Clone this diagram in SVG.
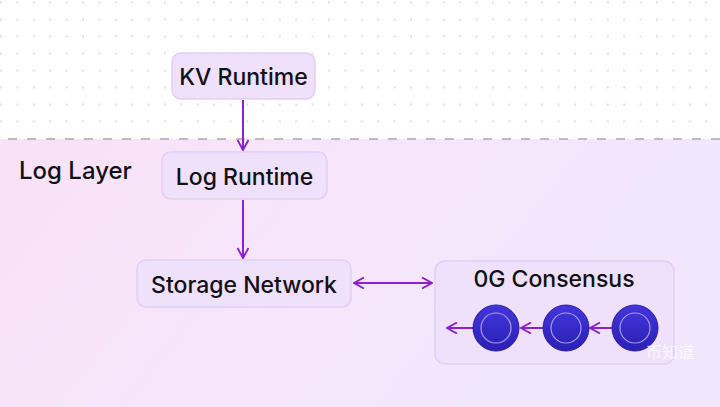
<svg xmlns="http://www.w3.org/2000/svg" width="720" height="407" viewBox="0 0 720 407">
<defs>
<style>
.node rect{fill:#efe0fb;stroke:#e2cdf6;stroke-width:1.5}
.lbl{font-family:Inter,"Noto Sans",sans-serif;font-size:23px;font-weight:500;fill:#111015;text-anchor:middle;dominant-baseline:central}
.conn{stroke:#8a22c9;stroke-width:2;fill:none}
.ball{fill:url(#ballg);stroke:#2a1c9e;stroke-width:1}
.ring{fill:none;stroke:#a69cf0;stroke-width:1.2}
</style>
<pattern id="dots" width="16.4" height="17" patternUnits="userSpaceOnUse" x="0" y="1.5">
<circle cx="1" cy="1" r="0.9" fill="#cfcfd6"/>
</pattern>
<linearGradient id="layerg" x1="0" y1="0" x2="1" y2="0.3">
<stop offset="0" stop-color="#f9e1f7"/>
<stop offset="0.5" stop-color="#f6e6fb"/>
<stop offset="1" stop-color="#f1e6fc"/>
</linearGradient>
<linearGradient id="ballg" x1="0" y1="0" x2="0" y2="1">
<stop offset="0" stop-color="#4236dc"/>
<stop offset="1" stop-color="#2c1fb4"/>
</linearGradient>
<marker id="ah" viewBox="0 0 12 12" refX="11" refY="6" markerWidth="12" markerHeight="12" markerUnits="userSpaceOnUse" orient="auto-start-reverse">
<path d="M1,0.5 L11,6 L1,11.5" fill="none" stroke="#8a22c9" stroke-width="1.9"/>
</marker>
</defs>
<rect width="720" height="407" fill="#ffffff"/>
<rect width="720" height="138" fill="url(#dots)"/>
<rect y="139" width="720" height="268" fill="url(#layerg)"/>
<line x1="8" y1="139" x2="720" y2="139" stroke="#a8a8ae" stroke-width="1.5" stroke-dasharray="9,10"/>
<text x="19" y="170" font-family="Inter,'Noto Sans',sans-serif" font-size="24" font-weight="500" fill="#111015" dominant-baseline="central">Log Layer</text>
<g id="kv-runtime" class="node">
<rect x="172" y="53" width="143" height="46" rx="9"/>
<text class="lbl" x="243.5" y="77">KV Runtime</text>
</g>
<g id="log-runtime" class="node">
<rect x="162" y="152" width="165" height="47" rx="9"/>
<text class="lbl" x="244.5" y="177">Log Runtime</text>
</g>
<g id="storage-network" class="node">
<rect x="137" y="260" width="214" height="47" rx="9"/>
<text class="lbl" x="244" y="285">Storage Network</text>
</g>
<g id="consensus" class="node">
<rect x="435" y="261" width="239" height="103" rx="10"/>
<text class="lbl" x="554" y="279">0G Consensus</text>
</g>
<g id="connectors">
<line class="conn" x1="243" y1="100" x2="243" y2="150" marker-end="url(#ah)"/>
<line class="conn" x1="243" y1="200" x2="243" y2="258" marker-end="url(#ah)"/>
<line class="conn" x1="354" y1="283" x2="432" y2="283" marker-start="url(#ah)" marker-end="url(#ah)"/>
<line class="conn" x1="612" y1="328" x2="590" y2="328" marker-end="url(#ah)"/>
<line class="conn" x1="543" y1="328" x2="521" y2="328" marker-end="url(#ah)"/>
<line class="conn" x1="473" y1="328" x2="447" y2="328" marker-end="url(#ah)"/>
</g>
<g id="block-1">
<circle class="ball" cx="496" cy="328" r="23"/>
<circle class="ring" cx="496" cy="328" r="15"/>
</g>
<g id="block-2">
<circle class="ball" cx="566" cy="328" r="23"/>
<circle class="ring" cx="566" cy="328" r="15"/>
</g>
<g id="block-3">
<circle class="ball" cx="635" cy="328" r="23"/>
<circle class="ring" cx="635" cy="328" r="15"/>
</g>
<text x="670" y="358" font-family="'Noto Sans CJK SC',sans-serif" font-size="16" fill="#ffffff" fill-opacity="0.8" text-anchor="middle">币知道</text>
</svg>
